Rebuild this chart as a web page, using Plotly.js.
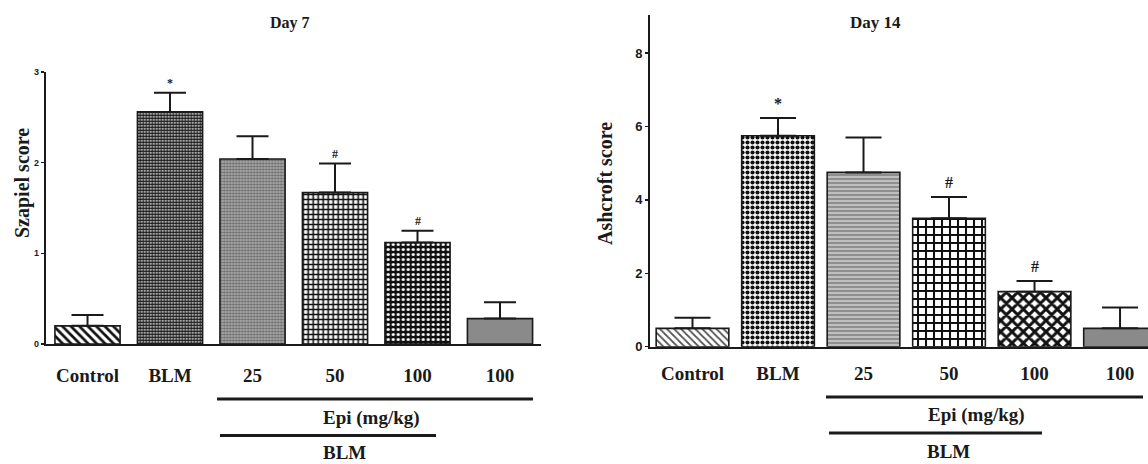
<!DOCTYPE html>
<html>
<head>
<meta charset="utf-8">
<script src="https://cdn.plot.ly/plotly-3.0.1.min.js"></script>
<style>html,body{margin:0;padding:0;background:#fff}#chart{width:1148px;height:464px}</style>
</head>
<body>
<div id="chart"></div>
<script>
// ---- data ----
const groups = ['Control', 'BLM', 'BLM + Epi 25', 'BLM + Epi 50', 'BLM + Epi 100', 'Epi 100'];
const tickLabels = ['Control', 'BLM', '25', '50', '100', '100'];

const day7Title = 'Day 7';
const day7YTitle = 'Szapiel score';
const day7Mean = [0.20, 2.56, 2.04, 1.67, 1.12, 0.28];
const day7Sem  = [0.12, 0.21, 0.25, 0.32, 0.13, 0.18];
const day7Sig  = ['', '*', '', '#', '#', ''];

const day14Title = 'Day 14';
const day14YTitle = 'Ashcroft score';
const day14Mean = [0.50, 5.75, 4.75, 3.50, 1.50, 0.50];
const day14Sem  = [0.29, 0.48, 0.95, 0.58, 0.29, 0.57];
const day14Sig  = ['', '*', '', '#', '#', ''];

const epiLabel = 'Epi (mg/kg)';
const blmLabel = 'BLM';

// ---- styles ----
const W = 1148, H = 464;
const px = v => v / W;
const py = v => (H - v) / H;
const serif = 'Liberation Serif, Times New Roman, serif';
const sans = 'Liberation Sans, Arial, sans-serif';
const ink = '#1a1a1a';

const leftPattern = {
  shape:   ['\\', '.', '.', '+', '.', '.'],
  fgcolor: ['#111111', '#1a1a1a', '#6a6a6a', '#111111', '#ffffff', '#8a8a8a'],
  bgcolor: ['#ffffff', '#ffffff', '#b4b4b4', '#ffffff', '#111111', '#8a8a8a'],
  size:    [6, 3, 3, 5, 5, 6],
  solidity:[0.45, 0.72, 0.5, 0.55, 0.3, 0.3],
  fillmode: 'replace'
};
const rightPattern = {
  shape:   ['\\', '.', '-', '+', 'x', '.'],
  fgcolor: ['#555555', '#111111', '#e0e0e0', '#111111', '#111111', '#8a8a8a'],
  bgcolor: ['#ffffff', '#ffffff', '#8e8e8e', '#ffffff', '#ffffff', '#8a8a8a'],
  size:    [5, 5, 4, 8, 8, 6],
  solidity:[0.35, 0.55, 0.3, 0.45, 0.6, 0.3],
  fillmode: 'replace'
};

function barTrace(mean, sem, pattern, xa, ya, w, capW) {
  return {
    type: 'bar', x: groups, y: mean, xaxis: xa, yaxis: ya,
    width: w,
    marker: { color: '#ffffff', pattern: pattern, line: { color: ink, width: 1.6 } },
    error_y: { type: 'data', symmetric: false, array: sem, arrayminus: sem.map(() => 0),
               color: ink, thickness: 2, width: capW },
    hoverinfo: 'skip', showlegend: false
  };
}

const traces = [
  barTrace(day7Mean, day7Sem, leftPattern, 'x', 'y', 0.79, 16),
  barTrace(day14Mean, day14Sem, rightPattern, 'x2', 'y2', 0.85, 18)
];

const annotations = [];
function sigMarks(sig, mean, sem, xref, yref, size, shift) {
  sig.forEach((s, i) => {
    if (!s) return;
    annotations.push({ x: groups[i], y: mean[i] + sem[i], xref: xref, yref: yref,
      text: '<b>' + s + '</b>', showarrow: false, yanchor: 'bottom', yshift: shift,
      font: { family: serif, size: size, color: ink } });
  });
}
sigMarks(day7Sig, day7Mean, day7Sem, 'x', 'y', 12, 1);
sigMarks(day14Sig, day14Mean, day14Sem, 'x2', 'y2', 16, 4);

function txt(t, x, y, size, angle) {
  annotations.push({ text: '<b>' + t + '</b>', x: px(x), y: py(y), xref: 'paper', yref: 'paper',
    showarrow: false, xanchor: 'center', yanchor: 'middle', textangle: angle || 0,
    font: { family: serif, size: size, color: ink } });
}
txt(day7Title, 290, 23, 16);
txt(day14Title, 876, 22, 17);
txt(day7YTitle, 22, 183, 20, -90);
txt(day14YTitle, 605, 183, 20, -90);
txt(epiLabel, 371, 418, 19);
txt(blmLabel, 345, 452, 19);
txt(epiLabel, 976, 415, 19);
txt(blmLabel, 948, 451, 19);

function hline(x0, x1, y) {
  return { type: 'line', xref: 'paper', yref: 'paper', x0: px(x0), x1: px(x1), y0: py(y), y1: py(y),
           line: { color: ink, width: 3 } };
}
const shapes = [
  hline(217, 533, 399), hline(220, 436, 435.5),
  hline(826, 1143, 397), hline(829, 1042, 433)
];

function xAxis(domain, range, standoff) {
  return { domain: domain, range: range, type: 'category', tickmode: 'array', tickvals: groups,
    ticktext: tickLabels, showline: true, linecolor: ink, linewidth: 2, ticks: '',
    ticklabelstandoff: standoff, showgrid: false, zeroline: false, fixedrange: true,
    tickfont: { family: serif, size: 19, color: ink, weight: 'bold' } };
}
function yAxis(domain, range, dtick, fsize, anchor) {
  return { domain: domain, range: range, anchor: anchor, dtick: dtick, tick0: 0,
    showline: true, linecolor: ink, linewidth: 2, ticks: 'outside', ticklen: 3, tickwidth: 1.5,
    tickcolor: ink, showgrid: false, zeroline: false, fixedrange: true,
    tickfont: { family: sans, size: fsize, color: ink, weight: 'bold' } };
}

const layout = {
  width: W, height: H, margin: { l: 0, r: 0, t: 0, b: 0 },
  paper_bgcolor: '#ffffff', plot_bgcolor: '#ffffff',
  showlegend: false,
  xaxis: Object.assign(xAxis([px(45.7), px(541)], [-0.507, 5.497], 13), { anchor: 'y' }),
  yaxis: yAxis([py(344), py(72)], [0, 3], 1, 9, 'x'),
  xaxis2: Object.assign(xAxis([px(650), 1], [-0.497, 5.327], 8), { anchor: 'y2' }),
  yaxis2: yAxis([py(346.7), py(15)], [0, 9.04], 2, 13, 'x2'),
  annotations: annotations,
  shapes: shapes
};

Plotly.newPlot('chart', traces, layout, { displayModeBar: false, staticPlot: true });
</script>
</body>
</html>
